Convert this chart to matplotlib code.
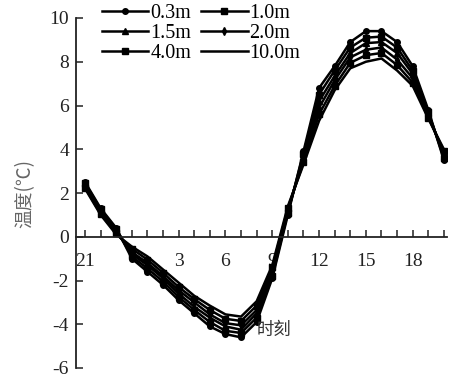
import matplotlib.pyplot as plt
import numpy as np

# hours from 21:00 to 20:00 next day
hours = [21, 22, 23, 0, 1, 2, 3, 4, 5, 6, 7, 8, 9, 10, 11, 12, 13, 14, 15, 16, 17, 18, 19, 20]
tick_labels = {0: "21", 6: "3", 9: "6", 12: "9", 15: "12", 18: "15", 21: "18"}

depths = ["0.3m", "1.0m", "1.5m", "2.0m", "4.0m", "10.0m"]
t_03 = [2.5, 1.3, 0.4, -1.0, -1.6, -2.2, -2.9, -3.5, -4.1, -4.45, -4.6, -3.9,
        -1.9, 1.0, 3.9, 6.8, 7.8, 8.9, 9.4, 9.4, 8.9, 7.8, 5.8, 3.5]
t_10 = [2.45, 1.25, 0.35, -0.9, -1.45, -2.05, -2.75, -3.35, -3.9, -4.3, -4.4, -3.7,
        -1.8, 1.1, 3.8, 6.5, 7.6, 8.65, 9.1, 9.15, 8.65, 7.6, 5.7, 3.6]
t_15 = [2.4, 1.2, 0.3, -0.8, -1.3, -1.9, -2.6, -3.2, -3.7, -4.1, -4.25, -3.5,
        -1.65, 1.15, 3.65, 6.2, 7.35, 8.4, 8.85, 8.9, 8.4, 7.45, 5.65, 3.7]
t_20 = [2.3, 1.1, 0.2, -0.7, -1.2, -1.8, -2.45, -3.0, -3.55, -3.95, -4.05, -3.35,
        -1.55, 1.25, 3.55, 5.9, 7.15, 8.2, 8.55, 8.65, 8.1, 7.25, 5.55, 3.8]
t_40 = [2.25, 1.05, 0.15, -0.55, -1.05, -1.65, -2.3, -2.85, -3.35, -3.75, -3.85, -3.15,
        -1.4, 1.3, 3.4, 5.6, 6.9, 7.95, 8.3, 8.4, 7.85, 7.05, 5.45, 3.9]
t_100 = [2.2, 1.0, 0.1, -0.45, -0.9, -1.5, -2.1, -2.7, -3.15, -3.55, -3.65, -2.95,
         -1.3, 1.4, 3.3, 5.3, 6.7, 7.7, 8.0, 8.15, 7.6, 6.9, 5.4, 4.0]
series = [t_03, t_10, t_15, t_20, t_40, t_100]
markers = ["o", "s", "^", "d", "s", None]
msizes = [4, 4.5, 5, 4, 4.5, 0]

plt.rcParams["font.family"] = ["Liberation Serif", "DejaVu Serif"]
plt.rcParams["axes.unicode_minus"] = False

fig = plt.figure(figsize=(4.51, 3.77), dpi=100)
ax = fig.add_axes([76 / 451, 9 / 377, 371 / 451, 350 / 377])

x = np.arange(len(hours))
handles = []
for vals, lab, mk, ms in zip(series, depths, markers, msizes):
    (h,) = ax.plot(x, vals, color="black", lw=1.8, marker=mk, markersize=ms,
                   markerfacecolor="black", markeredgecolor="black", label=lab)
    handles.append(h)

ax.set_xlim(-0.58, 23.2)
ax.set_ylim(-6, 10)

ax.spines["top"].set_visible(False)
ax.spines["right"].set_visible(False)
ax.spines["bottom"].set_position(("data", 0))
for s in ("left", "bottom"):
    ax.spines[s].set_linewidth(1.3)
    ax.spines[s].set_color("#222222")

ax.set_xticks(x)
ax.set_xticklabels([tick_labels.get(i, "") for i in x])
ax.tick_params(axis="x", direction="in", length=5, width=1.1, pad=12,
               labelsize=14, colors="#222222")
ax.set_yticks(np.arange(-6, 11, 2))
ax.tick_params(axis="y", direction="in", length=5, width=1.1, pad=5,
               labelsize=14, colors="#222222")

ax.set_ylabel("温度(℃)", family=["Noto Sans CJK SC", "DejaVu Sans"],
              fontsize=13.5, color="#666666", labelpad=10)
ax.text(11.0, -4.25, "时刻", family=["Noto Sans CJK SC", "DejaVu Sans"],
        fontsize=12.5, color="#333333", ha="left", va="center")

order = [0, 2, 4, 1, 3, 5]
fig.legend([handles[i] for i in order], [depths[i] for i in order],
           loc="upper left", bbox_to_anchor=(102 / 451, 1 - 4 / 377), ncol=2,
           frameon=False, fontsize=14.5, handlelength=2.3, handletextpad=0.1,
           columnspacing=0.5, labelspacing=0.05, borderpad=0, borderaxespad=0)

fig.savefig("out.png", dpi=100)
